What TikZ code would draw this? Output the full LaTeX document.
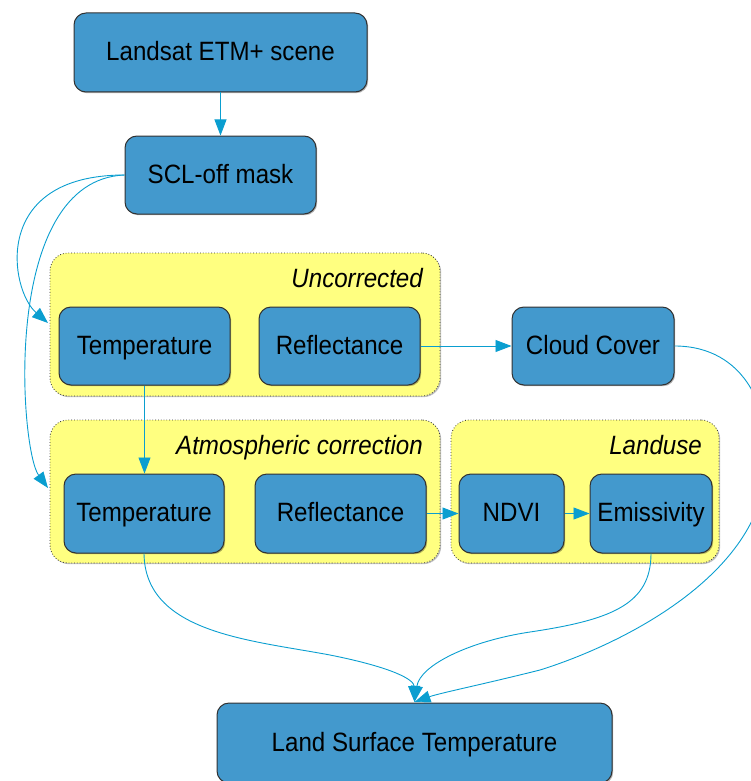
\documentclass[tikz,border=0pt]{standalone}
\usepackage{fontspec}
\setmainfont{Liberation Sans}[FakeStretch=0.91]
\usetikzlibrary{arrows.meta,shadows}
\definecolor{boxblue}{RGB}{67,153,205}
\definecolor{grpyellow}{RGB}{255,255,128}
\definecolor{arrowc}{RGB}{10,158,208}
\definecolor{edgegray}{RGB}{50,50,50}
\tikzset{
  box/.style={draw=edgegray, line width=1pt, fill=boxblue, rounded corners=12pt,
    inner sep=0pt, text height=19pt, text depth=3pt,
    font=\fontsize{26.5}{30}\selectfont, text=black,
    drop shadow={shadow xshift=1.2pt, shadow yshift=-1.2pt, fill=black, opacity=0.3}},
  grp/.style={draw=edgegray, dotted, line width=0.8pt, fill=grpyellow, rounded corners=18pt,
    inner sep=0pt,
    drop shadow={shadow xshift=1.2pt, shadow yshift=-1.2pt, fill=black, opacity=0.25}},
  grplabel/.style={font=\fontsize{26.5}{30}\selectfont\itshape, anchor=base east, inner sep=0pt},
  conn/.style={draw=arrowc, line width=0.9pt, -{Triangle[length=16pt,width=12pt]}}
}
\begin{document}
\begin{tikzpicture}[x=1pt,y=-1pt]
\useasboundingbox (0,0) rectangle (750,781);
% groups
\node[grp, minimum width=390pt, minimum height=143pt] (grpU) at (245,324.5) {};
\node[grp, minimum width=390pt, minimum height=143pt] (grpA) at (245,491.5) {};
\node[grp, minimum width=268pt, minimum height=143pt] (grpL) at (585,491.5) {};
\node[grplabel] (lblU) at (423,287) {Uncorrected};
\node[grplabel] (lblA) at (423,454) {Atmospheric correction};
\node[grplabel] (lblL) at (702,454) {Landuse};
% boxes
\node[box, minimum width=293pt, minimum height=79pt] (landsat) at (220.5,52.5) {Landsat ETM+ scene};
\node[box, minimum width=191pt, minimum height=78pt] (scl) at (220.5,175) {SCL-off mask};
\node[box, minimum width=171pt, minimum height=78pt] (t1) at (144.5,346) {Temperature};
\node[box, minimum width=161pt, minimum height=78pt] (r1) at (339.5,346) {Reflectance};
\node[box, minimum width=162pt, minimum height=78pt] (cc) at (593,346) {Cloud Cover};
\node[box, minimum width=160pt, minimum height=79pt] (t2) at (144,513.5) {Temperature};
\node[box, minimum width=171pt, minimum height=79pt] (r2) at (340.5,513.5) {Reflectance};
\node[box, minimum width=105pt, minimum height=79pt] (ndvi) at (511.5,513.5) {NDVI};
\node[box, minimum width=122pt, minimum height=79pt] (emis) at (651,513.5) {Emissivity};
\node[box, minimum width=395pt, minimum height=80pt] (lst) at (414.5,743) {Land Surface Temperature};
% free ends
\coordinate (uin) at (48,323);
\coordinate (ain) at (48,488);
\coordinate (lsttip) at (414.5,702);
% connectors
\draw[conn] (landsat.south) -- (scl.north);
\draw[conn] (scl.west) .. controls (-10,175) and (10,290) .. (uin);
\draw[conn] (scl.west) .. controls (0,180) and (20,450) .. (ain);
\draw[conn] (t1.south) -- (t1.south |- t2.north);
\draw[conn] (r1.east) -- (cc.west);
\draw[conn] (r2.east) -- (ndvi.west);
\draw[conn] (ndvi.east) -- (emis.west);
\draw[conn] (t2.south) .. controls (145,633) and (250,640) .. (330,655) .. controls (395,668) and (414,680) .. (lsttip);
\draw[conn] (emis.south) .. controls (651,605) and (610,620) .. (530,632) .. controls (470,641) and (420,665) .. (lsttip);
\draw[conn] (cc.east) .. controls (745,346) and (775,410) .. (765,480) .. controls (750,580) and (620,645) .. (540,670) .. controls (480,685) and (440,693) .. (lsttip);
\end{tikzpicture}
\end{document}
